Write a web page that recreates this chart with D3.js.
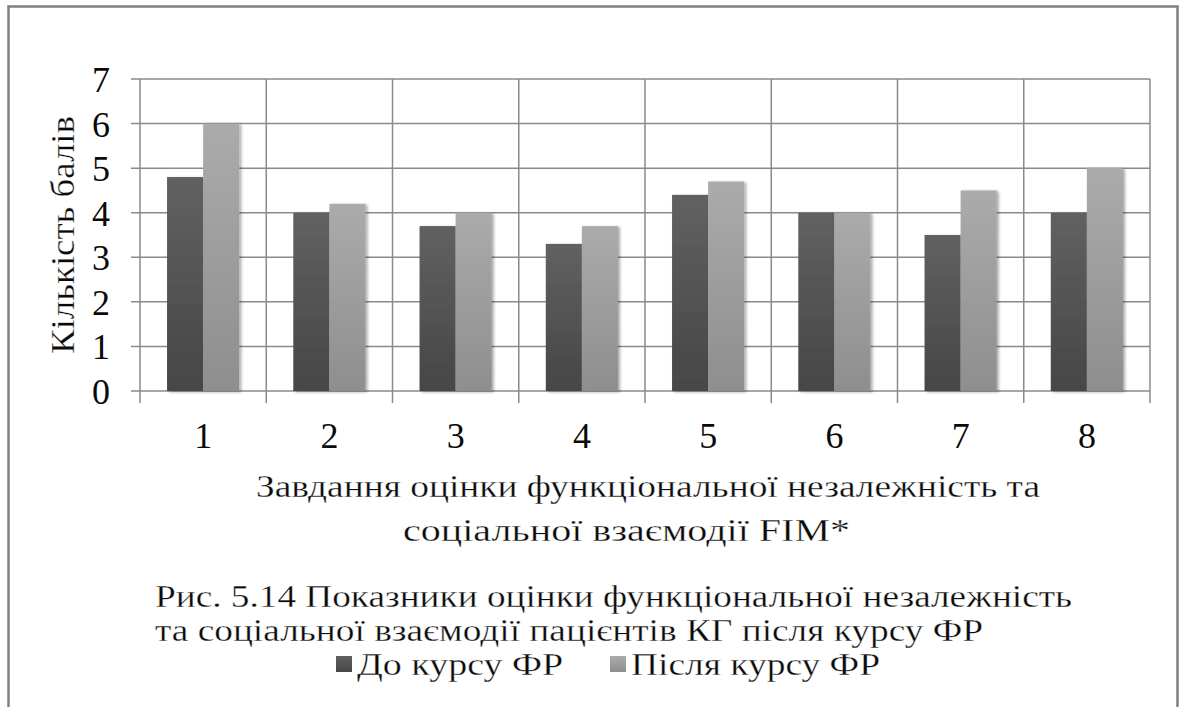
<!DOCTYPE html>
<html>
<head>
<meta charset="utf-8">
<script src="https://cdn.jsdelivr.net/npm/d3@7"></script>
<style>
  html, body { margin: 0; padding: 0; background: #fff; }
  svg { display: block; }
  text { font-family: "Liberation Serif", "DejaVu Serif", serif; fill: #0a0a0a; }
  text.lbl { stroke: #fff; stroke-width: 0.3px; }
</style>
</head>
<body>
<svg id="chart" width="1185" height="707"></svg>
<script>
// FIM task numbers and scores before / after the physical rehabilitation course
const categories = ["1", "2", "3", "4", "5", "6", "7", "8"];
const seriesNames = ["До курсу ФР", "Після курсу ФР"];
const beforeValues = [4.8, 4.0, 3.7, 3.3, 4.4, 4.0, 3.5, 4.0];
const afterValues = [6.0, 4.2, 4.0, 3.7, 4.7, 4.0, 4.5, 5.0];
const yTicks = [0, 1, 2, 3, 4, 5, 6, 7];
const yTitle = "Кількість балів";
const xTitleLines = ["Завдання оцінки функціональної незалежність та", "соціальної взаємодії FIM*"];
const captionLines = ["Рис. 5.14 Показники оцінки функціональної незалежність", "та соціальної взаємодії пацієнтів КГ після курсу ФР"];

const svg = d3.select("#chart");
const plot = { left: 140, right: 1150, top: 79, bottom: 391 };

// gradients and soft shadow for the bars
const defs = svg.append("defs");
const grads = [
  { id: "gDark", top: "#616161", bottom: "#464646" },
  { id: "gLight", top: "#ababab", bottom: "#8e8e8e" }
];
grads.forEach(g => {
  const lg = defs.append("linearGradient").attr("id", g.id)
    .attr("x1", 0).attr("y1", 0).attr("x2", 0).attr("y2", 1);
  lg.append("stop").attr("offset", "0%").attr("stop-color", g.top);
  lg.append("stop").attr("offset", "100%").attr("stop-color", g.bottom);
});
const shadow = defs.append("filter").attr("id", "barShadow")
  .attr("x", "-20%").attr("y", "-5%").attr("width", "150%").attr("height", "115%");
shadow.append("feDropShadow").attr("dx", 2).attr("dy", 1).attr("stdDeviation", 1.6)
  .attr("flood-color", "#000").attr("flood-opacity", 0.35);

// outer frame
svg.append("path")
  .attr("d", "M8.5,707 L8.5,6.5 L1177.5,6.5 L1177.5,707")
  .attr("fill", "none").attr("stroke", "#808080").attr("stroke-width", 2.5);

const x0 = d3.scaleBand().domain(categories).range([plot.left, plot.right]).padding(0);
const bw = x0.bandwidth();
const x1 = d3.scaleBand().domain(seriesNames).range([bw * 0.75 / 3.5, bw - bw * 0.75 / 3.5]).padding(0);
const y = d3.scaleLinear().domain([0, 7]).range([plot.bottom, plot.top]);

const gridColor = "#8a8a8a";

// horizontal gridlines with tick stubs on the left
svg.append("g").selectAll("line").data(yTicks).join("line")
  .attr("x1", plot.left - 9).attr("x2", plot.right)
  .attr("y1", d => y(d)).attr("y2", d => y(d))
  .attr("stroke", gridColor).attr("stroke-width", 1.5);

// vertical gridlines at category boundaries, extended below the baseline
const bounds = categories.map(c => x0(c)).concat([x0(categories[categories.length - 1]) + bw]);
svg.append("g").selectAll("line").data(bounds).join("line")
  .attr("x1", d => d).attr("x2", d => d)
  .attr("y1", plot.top).attr("y2", plot.bottom + 12)
  .attr("stroke", gridColor).attr("stroke-width", 1.5);

// bars
const rows = categories.map((c, i) => ({ cat: c, vals: [beforeValues[i], afterValues[i]] }));
const fills = ["url(#gDark)", "url(#gLight)"];
const groups = svg.append("g").selectAll("g").data(rows).join("g")
  .attr("transform", d => `translate(${x0(d.cat)},0)`);
groups.selectAll("rect").data(d => d.vals.map((v, k) => ({ v, k }))).join("rect")
  .attr("x", d => x1(seriesNames[d.k]))
  .attr("width", x1.bandwidth())
  .attr("y", d => y(d.v))
  .attr("height", d => y(0) - y(d.v))
  .attr("fill", d => fills[d.k])
  .attr("filter", "url(#barShadow)");

// y tick labels
svg.append("g").selectAll("text").data(yTicks).join("text")
  .attr("x", 110).attr("y", d => y(d)).attr("dy", "0.36em")
  .attr("text-anchor", "end").style("font-size", "36px")
  .text(d => d);

// x tick labels
svg.append("g").selectAll("text").data(categories).join("text")
  .attr("x", d => x0(d) + bw / 2).attr("y", 448)
  .attr("text-anchor", "middle").style("font-size", "36px")
  .text(d => d);

// stretches a text line to a given width
function fit(sel, w) {
  sel.attr("textLength", w).attr("lengthAdjust", "spacingAndGlyphs");
}

// y axis title
svg.append("text").attr("class", "lbl")
  .attr("transform", `translate(74,${(plot.top + plot.bottom) / 2}) rotate(-90)`)
  .attr("text-anchor", "middle").style("font-size", "34px")
  .text(yTitle).call(fit, 238);

// x axis title
const xTitleSpec = [{ x: 256, w: 784, y: 497 }, { x: 403, w: 447, y: 541 }];
svg.append("g").selectAll("text").data(xTitleLines).join("text").attr("class", "lbl")
  .attr("x", (d, i) => xTitleSpec[i].x).attr("y", (d, i) => xTitleSpec[i].y)
  .style("font-size", "32px")
  .text(d => d)
  .each(function (d, i) { d3.select(this).call(fit, xTitleSpec[i].w); });

// figure caption
const capSpec = [{ w: 917, y: 607 }, { w: 828, y: 641 }];
svg.append("g").selectAll("text").data(captionLines).join("text").attr("class", "lbl")
  .attr("x", 155).attr("y", (d, i) => capSpec[i].y)
  .style("font-size", "31px")
  .text(d => d)
  .each(function (d, i) { d3.select(this).call(fit, capSpec[i].w); });

// legend
const legend = svg.append("g");
const legendSpec = [{ sq: 336, tx: 357, w: 206 }, { sq: 610, tx: 631, w: 249 }];
seriesNames.forEach((name, k) => {
  legend.append("rect").attr("x", legendSpec[k].sq).attr("y", 656).attr("width", 16).attr("height", 16)
    .attr("fill", fills[k]);
  legend.append("text").attr("class", "lbl").attr("x", legendSpec[k].tx).attr("y", 675)
    .style("font-size", "31px").text(name).call(fit, legendSpec[k].w);
});
</script>
</body>
</html>
